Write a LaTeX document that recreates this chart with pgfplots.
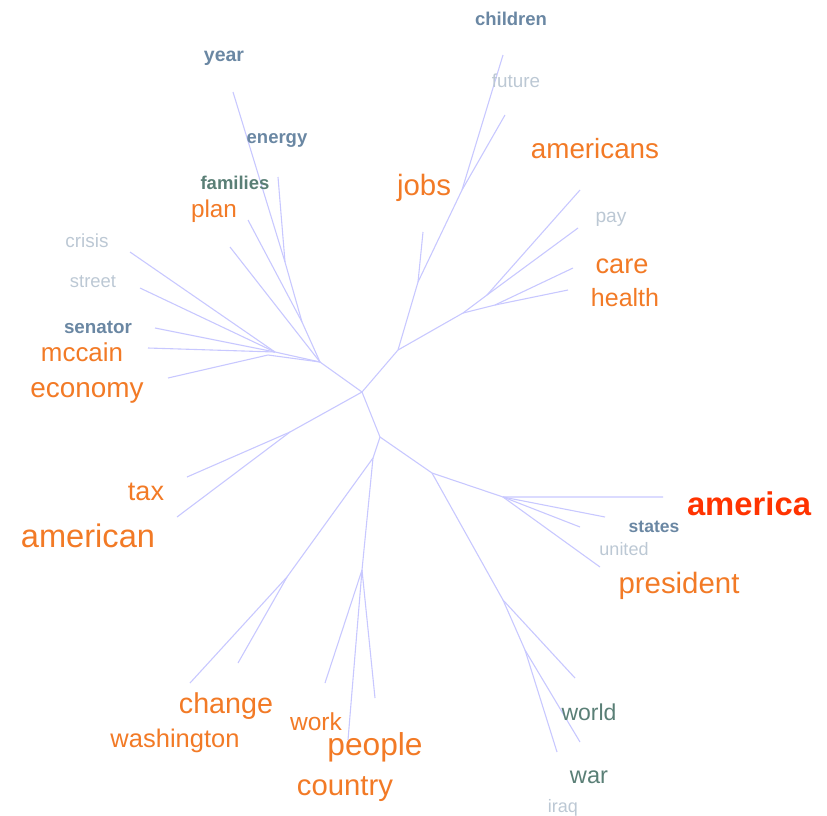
\documentclass[border=0pt]{standalone}
\usepackage{pgfplots}
\pgfplotsset{compat=1.18}
\usepackage{fontspec}
\setmainfont{Liberation Sans}
\definecolor{edge}{RGB}{200,200,255}
\definecolor{org}{RGB}{242,122,38}
\definecolor{red1}{RGB}{255,51,0}
\definecolor{teal1}{RGB}{90,127,118}
\definecolor{blueg}{RGB}{106,135,163}
\definecolor{light}{RGB}{188,200,212}
\newcommand{\lbl}[5]{\node[anchor=base,inner sep=0pt,text=#4,font=\fontsize{#3}{#3}\selectfont] at (axis cs:#1,#2) {#5};}
\newcommand{\blbl}[5]{\node[anchor=base,inner sep=0pt,text=#4,font=\fontsize{#3}{#3}\selectfont\bfseries] at (axis cs:#1,#2) {#5};}
\pgfplotsset{br/.style={draw=edge, line width=1.1pt, mark=none, solid, line join=round}}
\begin{document}
\begin{tikzpicture}
\begin{axis}[
  width=827pt, height=815pt, scale only axis,
  xmin=0, xmax=827, ymin=0, ymax=815, y dir=reverse,
  hide axis, clip=false,
]
\path (rel axis cs:0,0) rectangle (rel axis cs:1,1);
% upper-left branch
\addplot[br] coordinates {(362,392) (320,362) (302,322) (285,262) (233,92)};
\addplot[br] coordinates {(285,262) (278,177)};
\addplot[br] coordinates {(302,322) (248,220)};
\addplot[br] coordinates {(320,362) (230,247)};
\addplot[br] coordinates {(320,362) (275,352) (130,252)};
\addplot[br] coordinates {(275,352) (140,288)};
\addplot[br] coordinates {(275,352) (155,328)};
\addplot[br] coordinates {(275,352) (148,348)};
\addplot[br] coordinates {(320,362) (268,355) (168,378)};
% upper-right branch
\addplot[br] coordinates {(362,392) (398,350) (418,282) (462,190) (503,55)};
\addplot[br] coordinates {(462,190) (505,115)};
\addplot[br] coordinates {(418,282) (423,232)};
\addplot[br] coordinates {(398,350) (463,313) (487,295) (580,190)};
\addplot[br] coordinates {(487,295) (578,228)};
\addplot[br] coordinates {(463,313) (495,305) (573,268)};
\addplot[br] coordinates {(495,305) (568,290)};
% lower-left branch
\addplot[br] coordinates {(362,392) (290,432) (187,477)};
\addplot[br] coordinates {(290,432) (177,517)};
% lower-right branch
\addplot[br] coordinates {(362,392) (380,437) (432,473) (503,497) (663,497)};
\addplot[br] coordinates {(503,497) (605,517)};
\addplot[br] coordinates {(503,497) (580,527)};
\addplot[br] coordinates {(503,497) (600,567)};
\addplot[br] coordinates {(432,473) (503,600) (575,678)};
\addplot[br] coordinates {(503,600) (525,650) (580,742)};
\addplot[br] coordinates {(525,650) (557,752)};
% lower branch
\addplot[br] coordinates {(380,437) (373,458) (287,577) (238,663)};
\addplot[br] coordinates {(287,577) (190,683)};
\addplot[br] coordinates {(373,458) (362,570) (325,683)};
\addplot[br] coordinates {(362,570) (375,698)};
\addplot[br] coordinates {(362,570) (348,740)};
% labels
\blbl{511}{25}{18.5}{blueg}{children}
\lbl{516}{87}{18.8}{light}{future}
\blbl{224}{61}{19.5}{blueg}{year}
\blbl{277}{143}{18.5}{blueg}{energy}
\blbl{235}{189}{18.5}{teal1}{families}
\lbl{214}{217}{24.3}{org}{plan}
\lbl{87}{247}{18.9}{light}{crisis}
\lbl{93}{287}{18.4}{light}{street}
\blbl{98}{333}{18.8}{blueg}{senator}
\lbl{82}{361}{25.9}{org}{mccain}
\lbl{87}{397}{27.9}{org}{economy}
\lbl{424}{195}{29.4}{org}{jobs}
\lbl{595}{158}{27.8}{org}{americans}
\lbl{611}{222}{19.2}{light}{pay}
\lbl{622}{273}{27.2}{org}{care}
\lbl{625}{306}{25}{org}{health}
\lbl{146}{500}{27}{org}{tax}
\lbl{88}{547}{32.6}{org}{american}
\lbl{226}{713}{28.7}{org}{change}
\lbl{175}{747}{25.5}{org}{washington}
\lbl{316}{730}{24.6}{org}{work}
\lbl{375}{755}{31.7}{org}{people}
\lbl{345}{795}{29.3}{org}{country}
\blbl{749}{515}{32.8}{red1}{america}
\blbl{654}{532}{17.5}{blueg}{states}
\lbl{624}{555}{18}{light}{united}
\lbl{679}{593}{29.4}{org}{president}
\lbl{589}{720}{23}{teal1}{world}
\lbl{589}{783}{23.6}{teal1}{war}
\lbl{563}{812}{18}{light}{iraq}
\end{axis}
\end{tikzpicture}
\end{document}
